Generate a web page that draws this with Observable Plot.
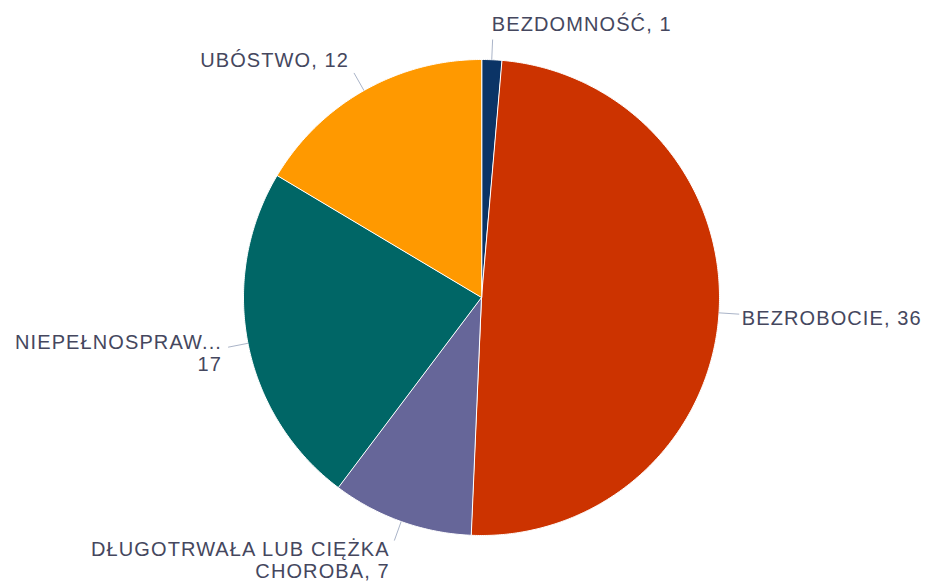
<!DOCTYPE html>
<html>
<head>
<meta charset="utf-8">
<script src="https://cdn.jsdelivr.net/npm/d3@7"></script>
<script src="https://cdn.jsdelivr.net/npm/@observablehq/plot@0.6"></script>
<style>
  html, body { margin: 0; padding: 0; background: #ffffff; }
  #chart svg { display: block; }
</style>
</head>
<body>
<div id="chart"></div>
<script>
// ---- data ----
const categories = ["BEZDOMNOŚĆ", "BEZROBOCIE", "DŁUGOTRWAŁA LUB CIĘŻKA CHOROBA", "NIEPEŁNOSPRAWNOŚĆ", "UBÓSTWO"];
const values = [1, 36, 7, 17, 12];
const labels = ["BEZDOMNOŚĆ, 1", "BEZROBOCIE, 36", "DŁUGOTRWAŁA LUB CIĘŻKA\nCHOROBA, 7", "NIEPEŁNOSPRAW...\n17", "UBÓSTWO, 12"];
const colors = ["#0b3466", "#cc3300", "#666699", "#006666", "#ff9900"];

// ---- layout ----
const W = 930, H = 587;
const cx = 481, cy = 297, R = 238;

const arcs = d3.pie().sort(null).value(d => d)(values);

// slice polygons (unit radius, y up)
const slicePts = [];
arcs.forEach((a, i) => {
  const name = categories[i];
  slicePts.push({name, x: 0, y: 0});
  const n = Math.max(2, Math.ceil((a.endAngle - a.startAngle) / (Math.PI / 360)));
  for (let k = 0; k <= n; k++) {
    const t = a.startAngle + (a.endAngle - a.startAngle) * k / n;
    slicePts.push({name, x: Math.sin(t), y: Math.cos(t)});
  }
});

// connectors and labels
const connectors = [];
const labelRows = [];
arcs.forEach((a, i) => {
  const m = (a.startAngle + a.endAngle) / 2;
  const s = Math.sin(m), c = Math.cos(m);
  connectors.push({name: categories[i], x1: s * 1.0, y1: c * 1.0, x2: s * 1.085, y2: c * 1.085});
  labelRows.push({
    text: labels[i],
    x: s >= 0 ? s * 1.1 - 0.004 : s * 1.095 - 0.016,
    y: c * 1.16 - 0.01,
    side: s >= 0 ? "right" : "left"
  });
});

const chart = Plot.plot({
  width: W,
  height: H,
  margin: 0,
  x: {domain: [-cx / R, (W - cx) / R], axis: null},
  y: {domain: [-(H - cy) / R, cy / R], axis: null},
  color: {domain: categories, range: colors},
  style: {fontFamily: "'Liberation Sans', Arial, sans-serif", background: "#ffffff", letterSpacing: "1.1px"},
  marks: [
    Plot.line(slicePts, {x: "x", y: "y", z: "name", fill: "name", stroke: "#ffffff", strokeWidth: 1, curve: "linear-closed"}),
    Plot.link(connectors, {x1: "x1", y1: "y1", x2: "x2", y2: "y2", stroke: "#aab4c8", strokeWidth: 1}),
    Plot.text(labelRows.filter(d => d.side === "right"), {x: "x", y: "y", text: "text", textAnchor: "start", fontSize: 20, fill: "#45475e", lineHeight: 1.12}),
    Plot.text(labelRows.filter(d => d.side === "left"), {x: "x", y: "y", text: "text", textAnchor: "end", fontSize: 20, fill: "#45475e", lineHeight: 1.12})
  ]
});

document.getElementById("chart").appendChild(chart);
</script>
</body>
</html>
